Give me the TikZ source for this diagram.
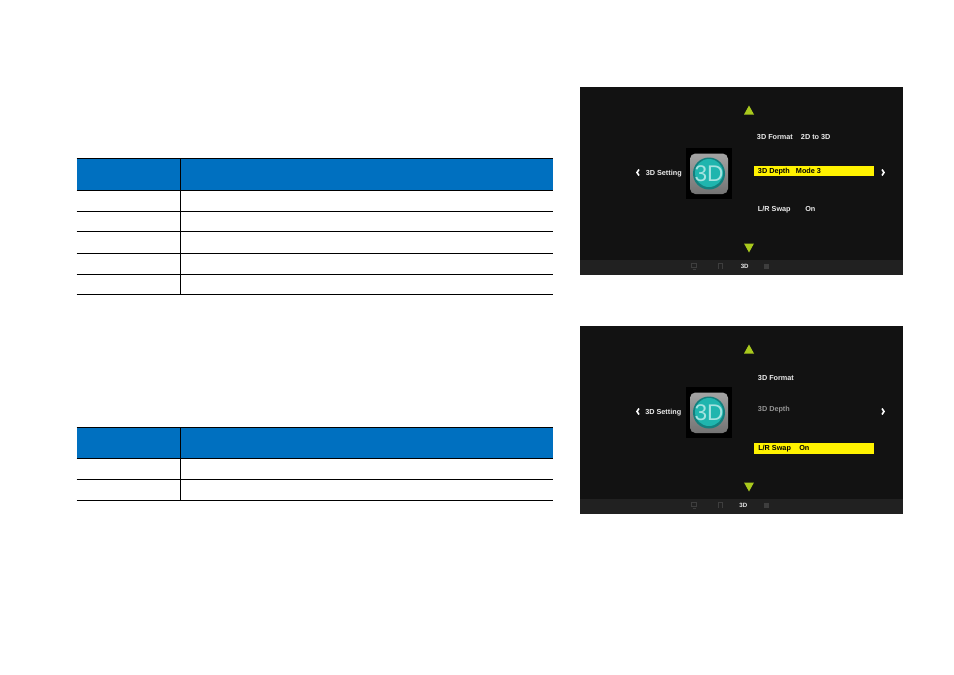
\documentclass[tikz,border=0pt]{standalone}
\usepackage{fontspec}
\setsansfont{Liberation Sans}
\definecolor{tblue}{HTML}{0070C0}
\definecolor{screenbg}{HTML}{121212}
\definecolor{barbg}{HTML}{212121}
\definecolor{arrowgreen}{HTML}{A9C91D}
\definecolor{barmark}{HTML}{3E3E3E}
\definecolor{iconteal}{HTML}{1FB5AE}
\definecolor{iconring}{HTML}{14807E}
\definecolor{iconfont}{HTML}{A5E3E0}
\definecolor{icontop}{HTML}{A4A4A4}
\definecolor{iconbottom}{HTML}{737373}
\tikzset{mlabel/.style = {anchor = base west,
                                    inner sep=0pt,
                                    text = white!92!black,
                                    font=\fontsize{5.45pt}{6pt}\sffamily\bfseries},
         mdark/.style = {mlabel,
                                    text = black},
         mgrey/.style = {mlabel,
                                    text = gray!85},
         mtab/.style = {line width = 0.75pt,
                                    color = black}}
\begin{document}
\begin{tikzpicture}[x=0.75pt,y=-0.75pt]
		\useasboundingbox (0,0) rectangle (954,675);
		% tables
		\fill[tblue] (76.5,158.5) rectangle (553,190.5);
		\fill[tblue] (76.5,427.5) rectangle (553,458.5);
		\foreach \y in {158.5,190.5,211.5,231.5,253.5,274.5,294.5} {
			\draw[mtab] (76.5,\y) -- (553,\y);
		}
		\foreach \y in {427.5,458.5,479.5,500.5} {
			\draw[mtab] (76.5,\y) -- (553,\y);
		}
		\draw[mtab] (180.5,158.5) -- (180.5,294.5);
		\draw[mtab] (180.5,427.5) -- (180.5,500.5);
		% both screens
		\foreach \dy/\tx in {0/744.7,239/743.3} {
			\begin{scope}[shift={(0,\dy)}]
				\fill[screenbg] (580,87) rectangle (903,275);
				\fill[barbg] (580,260) rectangle (903,275);
				\fill[arrowgreen] (744,114.5) -- (749,105.5) -- (754,114.5) -- cycle;
				\fill[arrowgreen] (744,243.5) -- (749,252.5) -- (754,243.5) -- cycle;
				\draw[white,line width=1.2pt] (639,169.5) -- (637,172.5) -- (639,175.5);
				\draw[white,line width=1.2pt] (882,169.5) -- (884,172.5) -- (882,175.5);
				% icon
				\fill[black] (686,148) rectangle (732,199);
				\shade[top color=icontop,bottom color=iconbottom,rounded corners=4pt] (690,153.5) rectangle (728,194);
				\fill[iconring] (709,173.5) circle (16);
				\fill[iconteal] (709,173) circle (14);
				\node[text=iconfont,inner sep=0pt,font=\fontsize{17pt}{17pt}\sffamily] at (709,173.5) {3D};
				% menu bar
				\draw[barmark,line width=0.7pt] (691.5,263.5) rectangle (696.5,267.5);
				\draw[barmark,line width=0.7pt] (692.5,269) -- (695.5,269);
				\draw[barmark,line width=0.7pt] (718,269) -- (718,263.5) -- (722.5,263.5) -- (722.5,269);
				\fill[barmark] (763.5,263.5) rectangle (768.5,269);
				\node[mlabel,anchor=center,font=\fontsize{4.6pt}{5pt}\sffamily\bfseries] at (\tx,266) {3D};
			\end{scope}
		}
		% first screen
		\fill[yellow] (753.5,165.5) rectangle (874,176);
		\node[mlabel] (s1title) at (645.5,175.3) {3D Setting};
		\node[mlabel] (s1format) at (756.7,139.6) {3D Format};
		\node[mlabel] (s1formatval) at (800.7,139.6) {2D to 3D};
		\node[mdark] (s1depth) at (757.7,173.6) {3D Depth};
		\node[mdark] (s1depthval) at (795.7,173.6) {Mode 3};
		\node[mlabel] (s1swap) at (757.7,211.3) {L/R Swap};
		\node[mlabel] (s1swapval) at (805,211.3) {On};
		% second screen
		\fill[yellow] (753.5,443) rectangle (874,453.7);
		\node[mlabel] (s2title) at (645,414.6) {3D Setting};
		\node[mlabel] (s2format) at (757.7,380.3) {3D Format};
		\node[mgrey] (s2depth) at (757.7,411.3) {3D Depth};
		\node[mdark] (s2swap) at (758,450.3) {L/R Swap};
		\node[mdark] (s2swapval) at (799,450.3) {On};
	\end{tikzpicture}
\end{document}
